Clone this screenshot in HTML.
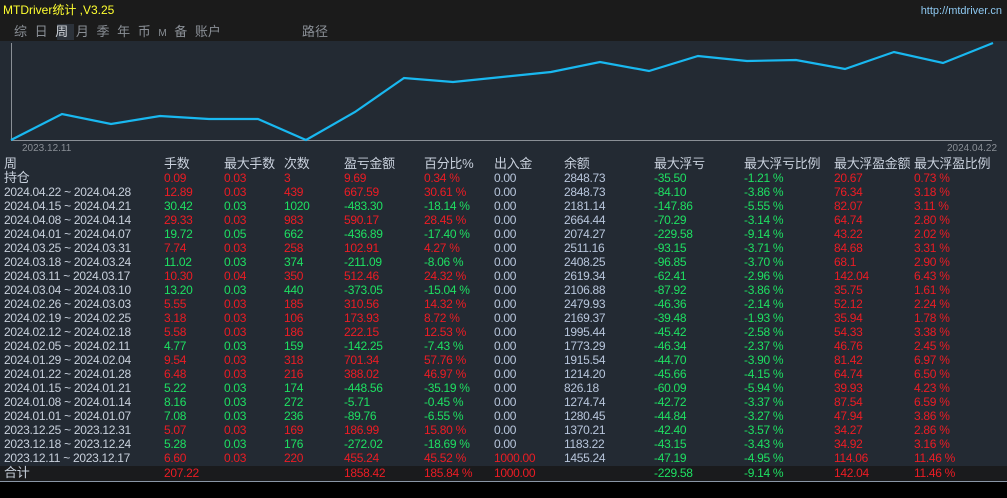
<!DOCTYPE html>
<html><head><meta charset="utf-8"><style>
*{margin:0;padding:0}
body{width:1007px;height:498px;background:#000;position:relative;overflow:hidden;font-family:"Liberation Sans","Noto Sans CJK SC",sans-serif;font-size:12px;color:#c8d0dc}
.t{position:absolute;white-space:nowrap;line-height:14px}
.r{position:absolute;left:0;width:1007px;height:14px}
.r span{position:absolute;top:0;line-height:14px;white-space:nowrap;letter-spacing:-0.3px}
.R{color:#ec1c24}.G{color:#1ee062}.B{color:#b8c6dc}.W{color:#c8d0dc}
</style></head><body>
<div style="position:absolute;left:0;top:0;width:1007px;height:41px;background:#1b1b1b"></div>
<div class="t" style="left:3px;top:3px;color:#ffff30;font-size:12px">MTDriver统计 ,V3.25</div>
<div class="t" style="right:5px;top:4px;color:#8ec8f0;font-size:11px">http://mtdriver.cn</div>
<div style="position:absolute;left:57px;top:24px;width:17px;height:16px;background:#2c323a"></div>
<div class="t" style="left:14px;top:25px;color:#8a8f96;font-size:13px;word-spacing:4px">综 日 <span style="color:#d0d4da">周</span> 月 季 年 币 <span style="font-size:10px">M</span> 备 账户</div>
<div class="t" style="left:302px;top:25px;color:#8a8f96;font-size:13px">路径</div>
<div style="position:absolute;left:0;top:41px;width:1007px;height:425px;background:#232a33"></div>
<svg style="position:absolute;left:0;top:0" width="1007" height="160">
<line x1="11.5" y1="43" x2="11.5" y2="140" stroke="#8a8f96"/>
<line x1="11" y1="140.5" x2="992" y2="140.5" stroke="#8a8f96"/>
<polyline fill="none" stroke="#19b8f0" stroke-width="2.2" points="11,140 62,114 111,124 160,116 209,119 258,119 306,140 355,112 404,78 453,82 502,77 551,72 600,62 649,71 698,56 747,61 796,60 845,69 894,52 943,63 993,43"/>
<text x="22" y="151" fill="#8a8f96" font-size="10" font-family="Liberation Sans">2023.12.11</text>
<text x="947" y="151" fill="#8a8f96" font-size="10" font-family="Liberation Sans">2024.04.22</text>
</svg>
<div class="r W" style="top:157px;font-size:13px"><span style="left:4px">周</span><span style="left:164px">手数</span><span style="left:224px">最大手数</span><span style="left:284px">次数</span><span style="left:344px">盈亏金额</span><span style="left:424px">百分比%</span><span style="left:494px">出入金</span><span style="left:564px">余额</span><span style="left:654px">最大浮亏</span><span style="left:744px">最大浮亏比例</span><span style="left:834px">最大浮盈金额</span><span style="left:914px">最大浮盈比例</span></div>
<div class="r" style="top:171px"><span class="W" style="left:4px;font-size:13px">持仓</span><span class="R" style="left:164px">0.09</span><span class="R" style="left:224px">0.03</span><span class="R" style="left:284px">3</span><span class="R" style="left:344px">9.69</span><span class="R" style="left:424px">0.34 %</span><span class="B" style="left:494px">0.00</span><span class="B" style="left:564px">2848.73</span><span class="G" style="left:654px">-35.50</span><span class="G" style="left:744px">-1.21 %</span><span class="R" style="left:834px">20.67</span><span class="R" style="left:914px">0.73 %</span></div>
<div id="rows"></div>
<div style="position:absolute;left:0;top:466px;width:1007px;height:15px;background:#1a1b1d"></div>
<div style="position:absolute;left:0;top:481px;width:1007px;height:1px;background:#8a96a6"></div>
<div class="r" style="top:466px"><span class="W" style="left:4px;font-size:13px">合计</span><span class="R" style="left:164px">207.22</span><span class="R" style="left:344px">1858.42</span><span class="R" style="left:424px">185.84 %</span><span class="R" style="left:494px">1000.00</span><span class="G" style="left:654px">-229.58</span><span class="G" style="left:744px">-9.14 %</span><span class="R" style="left:834px">142.04</span><span class="R" style="left:914px">11.46 %</span></div>
<div class="r" style="top:185px"><span class="W" style="left:4px">2024.04.22 ~ 2024.04.28</span><span class="R" style="left:164px">12.89</span><span class="R" style="left:224px">0.03</span><span class="R" style="left:284px">439</span><span class="R" style="left:344px">667.59</span><span class="R" style="left:424px">30.61 %</span><span class="B" style="left:494px">0.00</span><span class="B" style="left:564px">2848.73</span><span class="G" style="left:654px">-84.10</span><span class="G" style="left:744px">-3.86 %</span><span class="R" style="left:834px">76.34</span><span class="R" style="left:914px">3.18 %</span></div>
<div class="r" style="top:199px"><span class="W" style="left:4px">2024.04.15 ~ 2024.04.21</span><span class="G" style="left:164px">30.42</span><span class="G" style="left:224px">0.03</span><span class="G" style="left:284px">1020</span><span class="G" style="left:344px">-483.30</span><span class="G" style="left:424px">-18.14 %</span><span class="B" style="left:494px">0.00</span><span class="B" style="left:564px">2181.14</span><span class="G" style="left:654px">-147.86</span><span class="G" style="left:744px">-5.55 %</span><span class="R" style="left:834px">82.07</span><span class="R" style="left:914px">3.11 %</span></div>
<div class="r" style="top:213px"><span class="W" style="left:4px">2024.04.08 ~ 2024.04.14</span><span class="R" style="left:164px">29.33</span><span class="R" style="left:224px">0.03</span><span class="R" style="left:284px">983</span><span class="R" style="left:344px">590.17</span><span class="R" style="left:424px">28.45 %</span><span class="B" style="left:494px">0.00</span><span class="B" style="left:564px">2664.44</span><span class="G" style="left:654px">-70.29</span><span class="G" style="left:744px">-3.14 %</span><span class="R" style="left:834px">64.74</span><span class="R" style="left:914px">2.80 %</span></div>
<div class="r" style="top:227px"><span class="W" style="left:4px">2024.04.01 ~ 2024.04.07</span><span class="G" style="left:164px">19.72</span><span class="G" style="left:224px">0.05</span><span class="G" style="left:284px">662</span><span class="G" style="left:344px">-436.89</span><span class="G" style="left:424px">-17.40 %</span><span class="B" style="left:494px">0.00</span><span class="B" style="left:564px">2074.27</span><span class="G" style="left:654px">-229.58</span><span class="G" style="left:744px">-9.14 %</span><span class="R" style="left:834px">43.22</span><span class="R" style="left:914px">2.02 %</span></div>
<div class="r" style="top:241px"><span class="W" style="left:4px">2024.03.25 ~ 2024.03.31</span><span class="R" style="left:164px">7.74</span><span class="R" style="left:224px">0.03</span><span class="R" style="left:284px">258</span><span class="R" style="left:344px">102.91</span><span class="R" style="left:424px">4.27 %</span><span class="B" style="left:494px">0.00</span><span class="B" style="left:564px">2511.16</span><span class="G" style="left:654px">-93.15</span><span class="G" style="left:744px">-3.71 %</span><span class="R" style="left:834px">84.68</span><span class="R" style="left:914px">3.31 %</span></div>
<div class="r" style="top:255px"><span class="W" style="left:4px">2024.03.18 ~ 2024.03.24</span><span class="G" style="left:164px">11.02</span><span class="G" style="left:224px">0.03</span><span class="G" style="left:284px">374</span><span class="G" style="left:344px">-211.09</span><span class="G" style="left:424px">-8.06 %</span><span class="B" style="left:494px">0.00</span><span class="B" style="left:564px">2408.25</span><span class="G" style="left:654px">-96.85</span><span class="G" style="left:744px">-3.70 %</span><span class="R" style="left:834px">68.1</span><span class="R" style="left:914px">2.90 %</span></div>
<div class="r" style="top:269px"><span class="W" style="left:4px">2024.03.11 ~ 2024.03.17</span><span class="R" style="left:164px">10.30</span><span class="R" style="left:224px">0.04</span><span class="R" style="left:284px">350</span><span class="R" style="left:344px">512.46</span><span class="R" style="left:424px">24.32 %</span><span class="B" style="left:494px">0.00</span><span class="B" style="left:564px">2619.34</span><span class="G" style="left:654px">-62.41</span><span class="G" style="left:744px">-2.96 %</span><span class="R" style="left:834px">142.04</span><span class="R" style="left:914px">6.43 %</span></div>
<div class="r" style="top:283px"><span class="W" style="left:4px">2024.03.04 ~ 2024.03.10</span><span class="G" style="left:164px">13.20</span><span class="G" style="left:224px">0.03</span><span class="G" style="left:284px">440</span><span class="G" style="left:344px">-373.05</span><span class="G" style="left:424px">-15.04 %</span><span class="B" style="left:494px">0.00</span><span class="B" style="left:564px">2106.88</span><span class="G" style="left:654px">-87.92</span><span class="G" style="left:744px">-3.86 %</span><span class="R" style="left:834px">35.75</span><span class="R" style="left:914px">1.61 %</span></div>
<div class="r" style="top:297px"><span class="W" style="left:4px">2024.02.26 ~ 2024.03.03</span><span class="R" style="left:164px">5.55</span><span class="R" style="left:224px">0.03</span><span class="R" style="left:284px">185</span><span class="R" style="left:344px">310.56</span><span class="R" style="left:424px">14.32 %</span><span class="B" style="left:494px">0.00</span><span class="B" style="left:564px">2479.93</span><span class="G" style="left:654px">-46.36</span><span class="G" style="left:744px">-2.14 %</span><span class="R" style="left:834px">52.12</span><span class="R" style="left:914px">2.24 %</span></div>
<div class="r" style="top:311px"><span class="W" style="left:4px">2024.02.19 ~ 2024.02.25</span><span class="R" style="left:164px">3.18</span><span class="R" style="left:224px">0.03</span><span class="R" style="left:284px">106</span><span class="R" style="left:344px">173.93</span><span class="R" style="left:424px">8.72 %</span><span class="B" style="left:494px">0.00</span><span class="B" style="left:564px">2169.37</span><span class="G" style="left:654px">-39.48</span><span class="G" style="left:744px">-1.93 %</span><span class="R" style="left:834px">35.94</span><span class="R" style="left:914px">1.78 %</span></div>
<div class="r" style="top:325px"><span class="W" style="left:4px">2024.02.12 ~ 2024.02.18</span><span class="R" style="left:164px">5.58</span><span class="R" style="left:224px">0.03</span><span class="R" style="left:284px">186</span><span class="R" style="left:344px">222.15</span><span class="R" style="left:424px">12.53 %</span><span class="B" style="left:494px">0.00</span><span class="B" style="left:564px">1995.44</span><span class="G" style="left:654px">-45.42</span><span class="G" style="left:744px">-2.58 %</span><span class="R" style="left:834px">54.33</span><span class="R" style="left:914px">3.38 %</span></div>
<div class="r" style="top:339px"><span class="W" style="left:4px">2024.02.05 ~ 2024.02.11</span><span class="G" style="left:164px">4.77</span><span class="G" style="left:224px">0.03</span><span class="G" style="left:284px">159</span><span class="G" style="left:344px">-142.25</span><span class="G" style="left:424px">-7.43 %</span><span class="B" style="left:494px">0.00</span><span class="B" style="left:564px">1773.29</span><span class="G" style="left:654px">-46.34</span><span class="G" style="left:744px">-2.37 %</span><span class="R" style="left:834px">46.76</span><span class="R" style="left:914px">2.45 %</span></div>
<div class="r" style="top:353px"><span class="W" style="left:4px">2024.01.29 ~ 2024.02.04</span><span class="R" style="left:164px">9.54</span><span class="R" style="left:224px">0.03</span><span class="R" style="left:284px">318</span><span class="R" style="left:344px">701.34</span><span class="R" style="left:424px">57.76 %</span><span class="B" style="left:494px">0.00</span><span class="B" style="left:564px">1915.54</span><span class="G" style="left:654px">-44.70</span><span class="G" style="left:744px">-3.90 %</span><span class="R" style="left:834px">81.42</span><span class="R" style="left:914px">6.97 %</span></div>
<div class="r" style="top:367px"><span class="W" style="left:4px">2024.01.22 ~ 2024.01.28</span><span class="R" style="left:164px">6.48</span><span class="R" style="left:224px">0.03</span><span class="R" style="left:284px">216</span><span class="R" style="left:344px">388.02</span><span class="R" style="left:424px">46.97 %</span><span class="B" style="left:494px">0.00</span><span class="B" style="left:564px">1214.20</span><span class="G" style="left:654px">-45.66</span><span class="G" style="left:744px">-4.15 %</span><span class="R" style="left:834px">64.74</span><span class="R" style="left:914px">6.50 %</span></div>
<div class="r" style="top:381px"><span class="W" style="left:4px">2024.01.15 ~ 2024.01.21</span><span class="G" style="left:164px">5.22</span><span class="G" style="left:224px">0.03</span><span class="G" style="left:284px">174</span><span class="G" style="left:344px">-448.56</span><span class="G" style="left:424px">-35.19 %</span><span class="B" style="left:494px">0.00</span><span class="B" style="left:564px">826.18</span><span class="G" style="left:654px">-60.09</span><span class="G" style="left:744px">-5.94 %</span><span class="R" style="left:834px">39.93</span><span class="R" style="left:914px">4.23 %</span></div>
<div class="r" style="top:395px"><span class="W" style="left:4px">2024.01.08 ~ 2024.01.14</span><span class="G" style="left:164px">8.16</span><span class="G" style="left:224px">0.03</span><span class="G" style="left:284px">272</span><span class="G" style="left:344px">-5.71</span><span class="G" style="left:424px">-0.45 %</span><span class="B" style="left:494px">0.00</span><span class="B" style="left:564px">1274.74</span><span class="G" style="left:654px">-42.72</span><span class="G" style="left:744px">-3.37 %</span><span class="R" style="left:834px">87.54</span><span class="R" style="left:914px">6.59 %</span></div>
<div class="r" style="top:409px"><span class="W" style="left:4px">2024.01.01 ~ 2024.01.07</span><span class="G" style="left:164px">7.08</span><span class="G" style="left:224px">0.03</span><span class="G" style="left:284px">236</span><span class="G" style="left:344px">-89.76</span><span class="G" style="left:424px">-6.55 %</span><span class="B" style="left:494px">0.00</span><span class="B" style="left:564px">1280.45</span><span class="G" style="left:654px">-44.84</span><span class="G" style="left:744px">-3.27 %</span><span class="R" style="left:834px">47.94</span><span class="R" style="left:914px">3.86 %</span></div>
<div class="r" style="top:423px"><span class="W" style="left:4px">2023.12.25 ~ 2023.12.31</span><span class="R" style="left:164px">5.07</span><span class="R" style="left:224px">0.03</span><span class="R" style="left:284px">169</span><span class="R" style="left:344px">186.99</span><span class="R" style="left:424px">15.80 %</span><span class="B" style="left:494px">0.00</span><span class="B" style="left:564px">1370.21</span><span class="G" style="left:654px">-42.40</span><span class="G" style="left:744px">-3.57 %</span><span class="R" style="left:834px">34.27</span><span class="R" style="left:914px">2.86 %</span></div>
<div class="r" style="top:437px"><span class="W" style="left:4px">2023.12.18 ~ 2023.12.24</span><span class="G" style="left:164px">5.28</span><span class="G" style="left:224px">0.03</span><span class="G" style="left:284px">176</span><span class="G" style="left:344px">-272.02</span><span class="G" style="left:424px">-18.69 %</span><span class="B" style="left:494px">0.00</span><span class="B" style="left:564px">1183.22</span><span class="G" style="left:654px">-43.15</span><span class="G" style="left:744px">-3.43 %</span><span class="R" style="left:834px">34.92</span><span class="R" style="left:914px">3.16 %</span></div>
<div class="r" style="top:451px"><span class="W" style="left:4px">2023.12.11 ~ 2023.12.17</span><span class="R" style="left:164px">6.60</span><span class="R" style="left:224px">0.03</span><span class="R" style="left:284px">220</span><span class="R" style="left:344px">455.24</span><span class="R" style="left:424px">45.52 %</span><span class="R" style="left:494px">1000.00</span><span class="B" style="left:564px">1455.24</span><span class="G" style="left:654px">-47.19</span><span class="G" style="left:744px">-4.95 %</span><span class="R" style="left:834px">114.06</span><span class="R" style="left:914px">11.46 %</span></div>
</body></html>
